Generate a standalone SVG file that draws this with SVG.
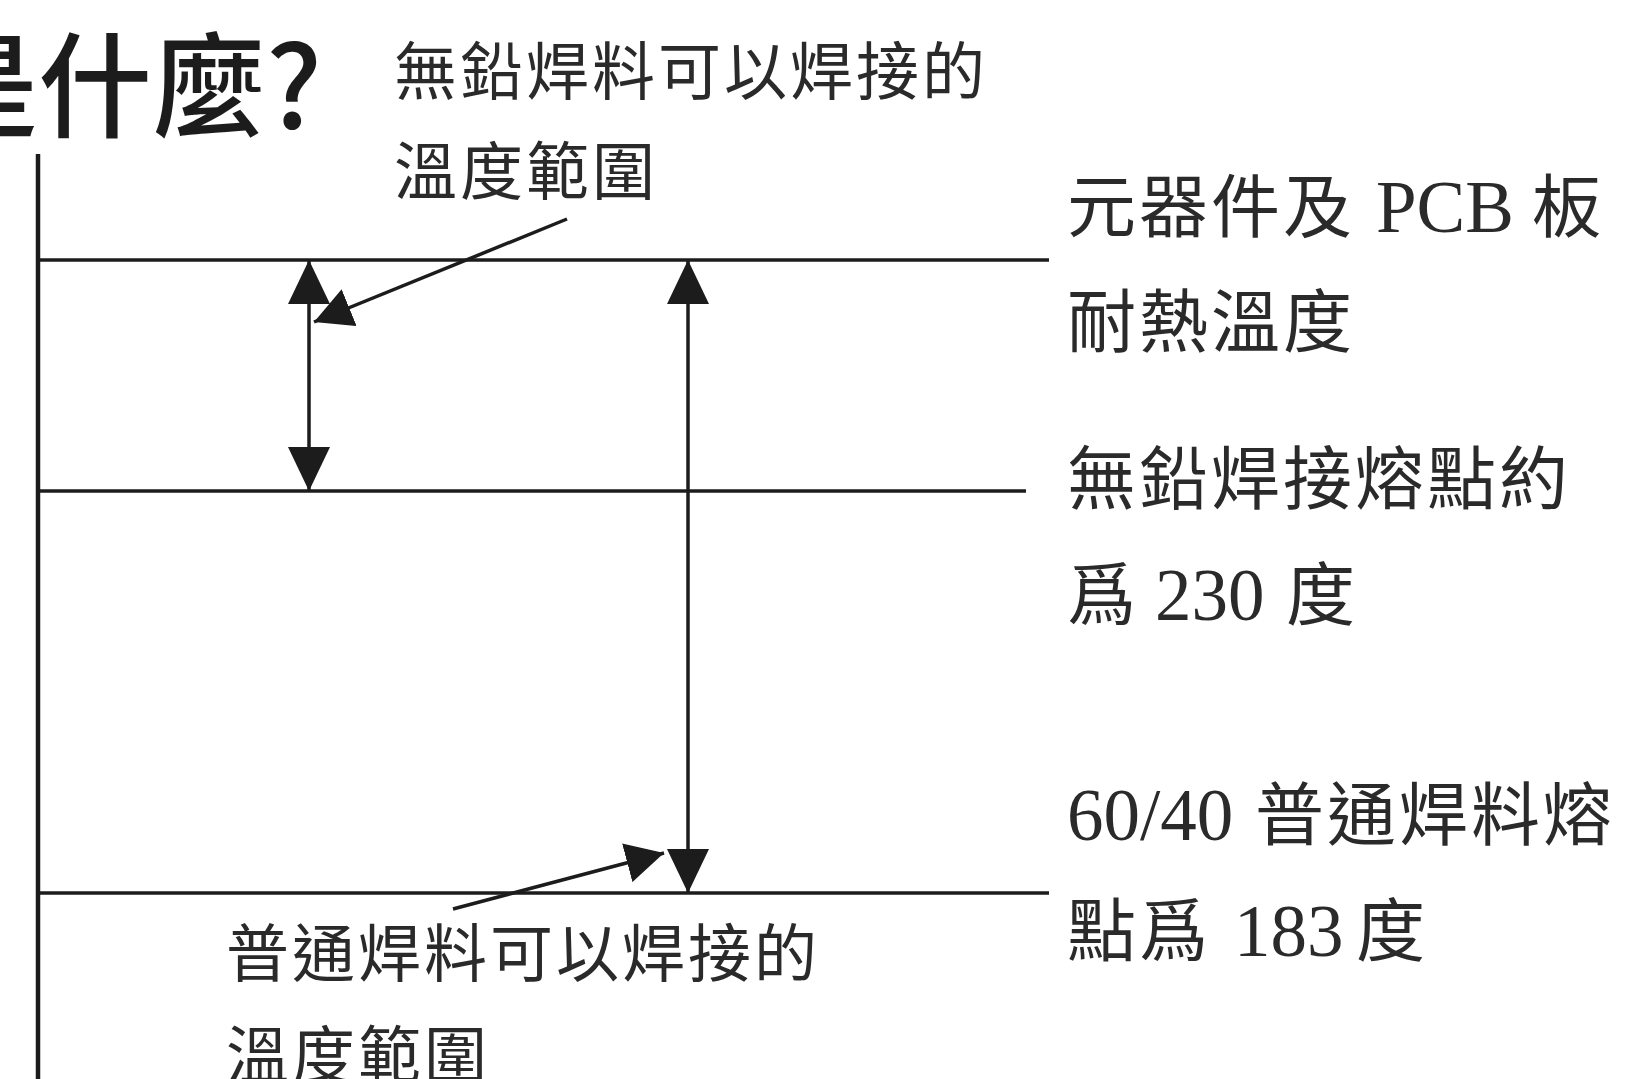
<svg xmlns="http://www.w3.org/2000/svg" width="1649" height="1079" viewBox="0 0 1649 1079">
<style>
.ln{stroke:#1c1c1c;stroke-width:3.5;fill:none}
.ax{stroke:#1c1c1c;stroke-width:4.5;fill:none}
.cjk{font-family:"Noto Sans CJK TC","Noto Sans CJK SC",sans-serif;fill:#2a2a2a}
.lab{font-size:63px;letter-spacing:3px}
.rt{font-size:69px;letter-spacing:3px}
.lat{font-family:"Liberation Serif",serif;letter-spacing:0}
.title{font-family:"Noto Sans CJK TC",sans-serif;font-size:114px;font-weight:500;fill:#1c1c1c}
</style>
<defs>
<marker id="ah" viewBox="0 0 44 42" refX="44" refY="21" markerWidth="44" markerHeight="42" markerUnits="userSpaceOnUse" orient="auto-start-reverse">
<path d="M0,0 L44,21 L0,42 z" fill="#1c1c1c"/>
</marker>
<marker id="ph" viewBox="0 0 38 40" refX="38" refY="20" markerWidth="38" markerHeight="40" markerUnits="userSpaceOnUse" orient="auto">
<path d="M0,0 L38,20 L0,40 z" fill="#1c1c1c"/>
</marker>
</defs>
<rect width="1649" height="1079" fill="#ffffff"/>
<g id="title"><text class="title" x="-76" y="128">是什麼?</text></g>
<g id="axis"><line class="ax" x1="38" y1="154" x2="38" y2="1079"/></g>
<g id="levels">
<line class="ln" x1="38" y1="260" x2="1049" y2="260"/>
<line class="ln" x1="38" y1="491" x2="1026" y2="491"/>
<line class="ln" x1="38" y1="893" x2="1049" y2="893"/>
</g>
<g id="connectors">
<line class="ln" x1="309" y1="260" x2="309" y2="491" marker-start="url(#ah)" marker-end="url(#ah)"/>
<line class="ln" x1="688" y1="260" x2="688" y2="893" marker-start="url(#ah)" marker-end="url(#ah)"/>
<line class="ln" x1="567" y1="219" x2="314" y2="322" marker-end="url(#ph)"/>
<line class="ln" x1="453" y1="909" x2="664" y2="853" marker-end="url(#ph)"/>
</g>
<g id="label-leadfree-range">
<text class="cjk lab" x="394" y="94">無鉛焊料可以焊接的</text>
<text class="cjk lab" x="394" y="194">溫度範圍</text>
</g>
<g id="label-normal-range">
<text class="cjk lab" x="226" y="976">普通焊料可以焊接的</text>
<text class="cjk lab" x="226" y="1078">溫度範圍</text>
</g>
<g id="label-component">
<text class="cjk rt" x="1067" y="232">元器件及 <tspan class="lat" x="1376" font-size="73">PCB</tspan><tspan x="1532">板</tspan></text>
<text class="cjk rt" x="1067" y="347">耐熱溫度</text>
</g>
<g id="label-leadfree-melt">
<text class="cjk rt" x="1067" y="504">無鉛焊接熔點約</text>
<text class="cjk rt" x="1067" y="620">爲<tspan class="lat" x="1155" font-size="73">230</tspan><tspan x="1286">度</tspan></text>
</g>
<g id="label-normal-melt">
<text class="cjk rt" x="1067" y="840"><tspan class="lat" font-size="73">60/40</tspan><tspan x="1255">普通焊料熔</tspan></text>
<text class="cjk rt" x="1067" y="956">點爲<tspan class="lat" x="1234" font-size="73">183</tspan><tspan x="1356">度</tspan></text>
</g>
</svg>
